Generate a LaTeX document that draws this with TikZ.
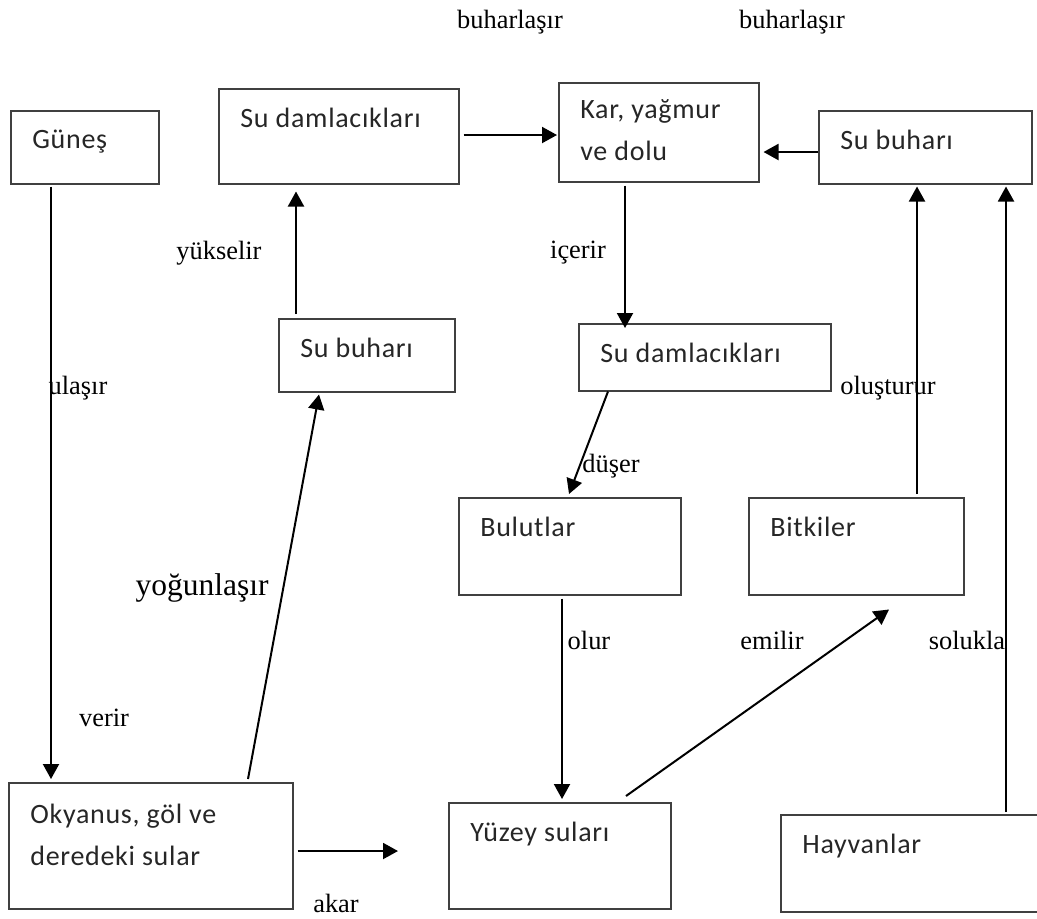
\documentclass[tikz,border=0pt]{standalone}
\usepackage{fontspec}
\setmainfont{Liberation Serif}
\newfontfamily\boxfont[LetterSpace=2.5]{Carlito}
\usetikzlibrary{calc}
\usetikzlibrary{arrows.meta}

\tikzset{
 box/.style={draw=black!75, line width=.75pt, anchor=north west, inner sep=0pt},
 boxtext/.style={anchor=north west, inner sep=0pt, xshift=11pt, yshift=-10pt, text=black!85, font=\boxfont\fontsize{14}{21}\selectfont, align=left},
 flow/.style={line width=1pt, -{Triangle[length=7.5pt,width=8pt]}},
 fiil/.style={font=\fontsize{13.2}{16}\selectfont, inner sep=0pt}
}

\begin{document}
\begin{tikzpicture}[x=.5pt, y=-.5pt]
\useasboundingbox (0,0) rectangle (1037,918);
\clip (0,0) rectangle (1037,918);
% kutular
\node[box, minimum width=74pt, minimum height=36.5pt, label={[boxtext]north west:Güneş}] (gunes) at (10,110) {};
\node[box, minimum width=120pt, minimum height=47.5pt, label={[boxtext]north west:Su damlacıkları}] (damla1) at (218,88) {};
\node[box, minimum width=88pt, minimum height=36.5pt, label={[boxtext]north west:Su buharı}] (buhar1) at (278,318) {};
\node[box, minimum width=100pt, minimum height=49.5pt, label={[boxtext, yshift=1.5pt]north west:{Kar, yağmur\\ve dolu}}] (kar) at (558,82) {};
\node[box, minimum width=106.5pt, minimum height=36.5pt, label={[boxtext]north west:Su buharı}] (buhar2) at (818,110) {};
\node[box, minimum width=126pt, minimum height=33.5pt, label={[boxtext]north west:Su damlacıkları}] (damla2) at (578,323) {};
\node[box, minimum width=111pt, minimum height=48.5pt, label={[boxtext]north west:Bulutlar}] (bulut) at (458,497) {};
\node[box, minimum width=107.5pt, minimum height=48.5pt, label={[boxtext]north west:Bitkiler}] (bitki) at (748,497) {};
\node[box, minimum width=142pt, minimum height=63pt, label={[boxtext, yshift=-1pt]north west:{Okyanus, göl ve\\deredeki sular}}] (okyanus) at (8,782) {};
\node[box, minimum width=111pt, minimum height=53pt, label={[boxtext]north west:Yüzey suları}] (yuzey) at (448,802) {};
\node[box, minimum width=140pt, minimum height=48.5pt, label={[boxtext]north west:Hayvanlar}] (hayvan) at (780,814) {};
\coordinate (akis) at (398,851);
% oklar
\draw[flow] ($(gunes.south west)+(41,2)$) -- ($(okyanus.north west)+(43,-3)$);
\draw[flow] ($(okyanus.north west)+(240,-3)$) -- ($(buhar1.south west)+(41,2)$);
\draw[flow] ($(buhar1.north west)+(18,-4)$) -- ($(damla1.south west)+(78,7)$);
\draw[flow] ($(damla1.north east)+(4,47)$) -- ($(kar.north west)+(-1,53)$);
\draw[flow] ($(buhar2.north west)+(0,42)$) -- ($(kar.north east)+(4,70)$);
\draw[flow] ($(kar.south west)+(67,3)$) -- ($(damla2.north west)+(47,5)$);
\draw[flow] ($(damla2.south west)+(30,0)$) -- ($(bulut.north west)+(111,-3)$);
\draw[flow] ($(bulut.south west)+(104,3)$) -- ($(yuzey.north west)+(114,-3)$);
\draw[flow] ($(yuzey.north west)+(178,-6)$) -- ($(bitki.south west)+(141,14)$);
\draw[flow] ($(bitki.north west)+(169,-3)$) -- ($(buhar2.south west)+(99,2)$);
\draw[flow] ($(hayvan.north west)+(226,-2)$) -- ($(buhar2.south west)+(188,2)$);
\draw[flow] ($(okyanus.north east)+(4,69)$) -- (akis);
% fiiller
\foreach \t/\x/\y [count=\i] in {buharlaşır/510/22, buharlaşır/792/22, yükselir/219/253, ulaşır/78/388, verir/104/718, akar/336/903, içerir/578/253, oluşturur/888/388, düşer/611/466, olur/589/640, emilir/772/640, solukla/967/640}
 \node[fiil] (fiil\i) at (\x,\y) {\t};
\node[fiil, font=\fontsize{15.75}{19}\selectfont] (yogun) at (202,588) {yoğunlaşır};
\end{tikzpicture}
\end{document}
